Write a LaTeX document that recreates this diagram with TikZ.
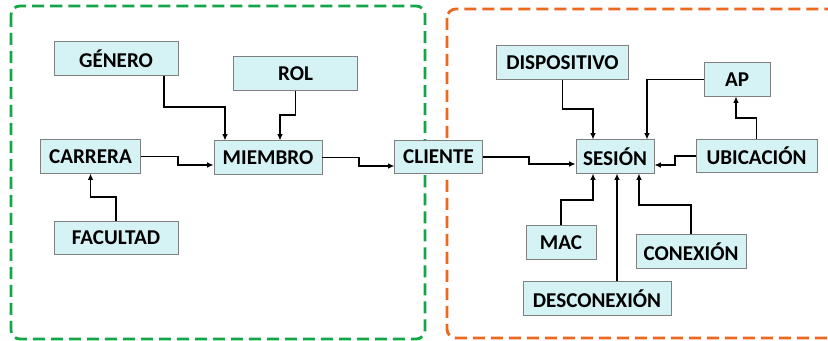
\documentclass[tikz,border=0pt]{standalone}
\usepackage{fontspec}
\setmainfont{Carlito}
\usetikzlibrary{arrows.meta}

\definecolor{boxfill}{RGB}{213,243,245}
\definecolor{boxline}{RGB}{128,128,128}
\definecolor{grupoverde}{RGB}{20,165,70}
\definecolor{gruponaranja}{RGB}{236,104,32}

\begin{document}
\begin{tikzpicture}[
		x=0.025cm, y=-0.025cm,
		entity/.style={draw=boxline, fill=boxfill, line width=0.6pt,
			minimum height=0.83cm, inner sep=0pt,
			font=\bfseries\fontsize{15}{17}\selectfont},
		link/.style={line width=1.1pt, -{Latex[length=4.5pt,width=4pt]}},
		frame/.style={line width=2pt, rounded corners=0.22cm,
			dash pattern=on 0.3cm off 0.15cm}
	]

	\useasboundingbox (0,0) rectangle (828,341);

	% grupos
	\draw[frame, grupoverde] (11,6) rectangle (425,339);
	\draw[frame, gruponaranja] (447,9) rectangle (845,338);

	% lado del miembro
	\node[entity, minimum width=3.1cm] (genero) at (116,58.5) {GÉNERO};
	\node[entity, minimum width=3.12cm] (rol) at (295.5,73.5) {ROL};
	\node[entity, minimum width=2.52cm] (carrera) at (90.5,156.5) {CARRERA};
	\node[entity, minimum width=2.7cm] (miembro) at (268,157.5) {MIEMBRO};
	\node[entity, minimum width=3.1cm] (facultad) at (116,238) {FACULTAD};
	\node[entity, minimum width=2.18cm] (cliente) at (438.5,157) {CLIENTE};

	% lado de la sesion
	\node[entity, minimum width=3.28cm] (dispositivo) at (562.5,62.5) {DISPOSITIVO};
	\node[entity, minimum width=1.65cm] (ap) at (737,79.5) {AP};
	\node[entity, minimum width=1.95cm] (sesion) at (615,156.5) {SESIÓN};
	\node[entity, minimum width=3.02cm] (ubicacion) at (756.5,156) {UBICACIÓN};
	\node[entity, minimum width=1.75cm] (mac) at (561,242.5) {MAC};
	\node[entity, minimum width=2.75cm] (conexion) at (691,251.5) {CONEXIÓN};
	\node[entity, minimum width=3.7cm] (desconexion) at (597,298.5) {DESCONEXIÓN};

	\draw[link] (genero.south -| 164,0) |- (225,107) -- (miembro.north -| 225,0);
	\draw[link] (rol.south) |- (280,115) -- (miembro.north -| 280,0);
	\draw[link] (carrera.east) -| (178,165) -- (miembro.west |- 0,165);
	\draw[link] (facultad.north) |- (90.5,197) -- (carrera.south);
	\draw[link] (miembro.east) -| (359,166) -- (cliente.west |- 0,166);

	\draw[link] (cliente.east) -| (529,164) -- (sesion.west |- 0,164);
	\draw[link] (dispositivo.south) |- (593,109) -- (sesion.north -| 593,0);
	\draw[link] (ap.west) -| (sesion.north -| 647,0);
	\draw[link] (ubicacion.north) |- (736,118) -- (ap.south -| 736,0);
	\draw[link] (ubicacion.west) -| (675,165) -- (sesion.east |- 0,165);
	\draw[link] (mac.north) |- (593,200) -- (sesion.south -| 593,0);
	\draw[link] (desconexion.north -| 617,0) -- (sesion.south -| 617,0);
	\draw[link] (conexion.north) |- (639,205) -- (sesion.south -| 639,0);
\end{tikzpicture}
\end{document}
